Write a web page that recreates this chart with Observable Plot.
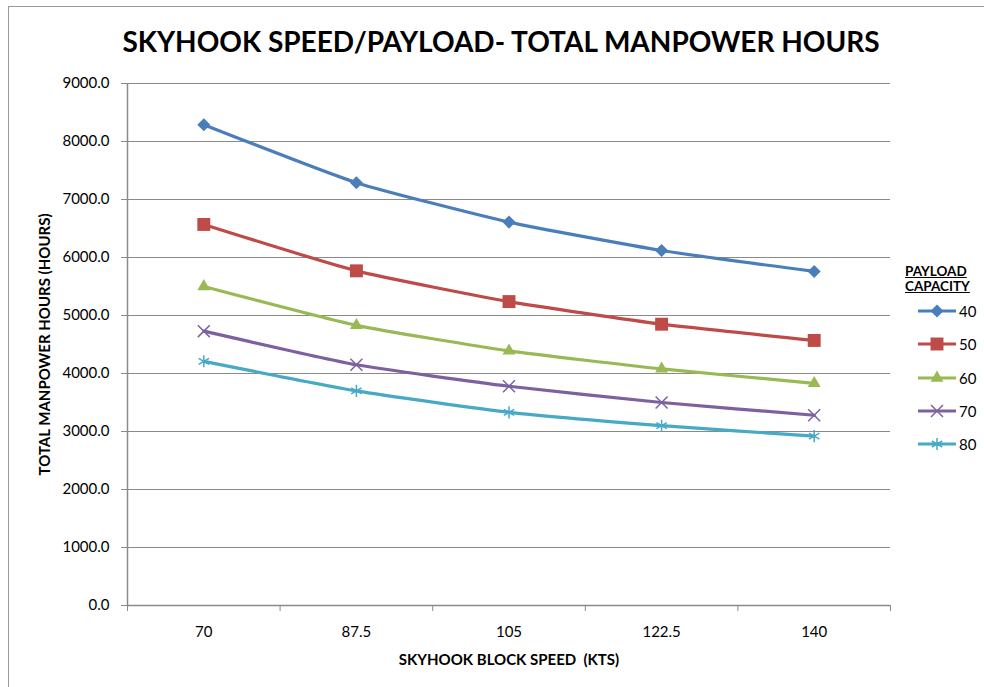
<!DOCTYPE html>
<html><head><meta charset="utf-8">
<script src="https://cdn.jsdelivr.net/npm/d3@7"></script>
<script src="https://cdn.jsdelivr.net/npm/@observablehq/plot@0.6"></script>
<style>
html,body{margin:0;padding:0;background:#fff;overflow:hidden;width:984px;height:687px}
#wrap{position:relative;width:984px;height:687px;font-family:Lato,"Open Sans",sans-serif;color:#000}
#border{position:absolute;left:8px;top:6px;width:1200px;height:1200px;border:1px solid #9a9a9a;box-sizing:border-box}
#title{position:absolute;left:0;top:24px;width:1002px;text-align:center;font-weight:bold;font-size:28px;line-height:34px;white-space:nowrap}
#chart{position:absolute;left:0;top:0}
#legend{position:absolute;left:905px;top:264px;font-size:15px}
#legend .head{font-weight:bold;font-size:13.5px;text-decoration:underline;line-height:15px}
#legend .item{position:absolute;left:12px;height:20px;display:flex;align-items:center}
#legend .item span{margin-left:2px}
</style></head>
<body><div id="wrap"><div id="border"></div><div id="chart"></div><div id="title"></div><div id="legend"></div></div>
<script>
const chartTitle = "SKYHOOK SPEED/PAYLOAD- TOTAL MANPOWER HOURS";
const xTitle = "SKYHOOK BLOCK SPEED  (KTS)";
const yTitle = "TOTAL MANPOWER HOURS (HOURS)";
const legendTitle = ["PAYLOAD", "CAPACITY"];
const speeds = [70, 87.5, 105, 122.5, 140];
const capacities = [40, 50, 60, 70, 80];
const hours40 = [8290, 7290, 6610, 6120, 5760];
const hours50 = [6570, 5770, 5240, 4850, 4570];
const hours60 = [5500, 4830, 4390, 4080, 3830];
const hours70 = [4730, 4150, 3780, 3500, 3280];
const hours80 = [4210, 3700, 3330, 3100, 2920];
const yTicks = [0, 1000, 2000, 3000, 4000, 5000, 6000, 7000, 8000, 9000];

const seriesValues = [hours40, hours50, hours60, hours70, hours80];
const seriesStyle = [
  {color: "#4a7ebb", symbol: "square", r: 5.2, rotate: 45, filled: true},
  {color: "#be4b48", symbol: "square", r: 7.3, rotate: 0, filled: true},
  {color: "#98b954", symbol: "triangle", r: 4.8, rotate: 0, filled: true},
  {color: "#7d60a0", symbol: "times", r: 5.5, rotate: 0, filled: false},
  {color: "#46aac5", symbol: "asterisk", r: 5.7, rotate: 0, filled: false}
];

document.getElementById("title").textContent = chartTitle;

const step = speeds[1] - speeds[0];
const xDomain = [speeds[0] - step / 2, speeds[speeds.length - 1] + step / 2];
const boundaries = [xDomain[0], ...speeds.slice(0, -1).map((s, i) => (s + speeds[i + 1]) / 2), xDomain[1]];
const gridColor = "#8a8a8a";

const marks = [
  Plot.gridY(yTicks.filter(v => v > 0), {stroke: gridColor, strokeOpacity: 1, strokeWidth: 1}),
  Plot.ruleY([0], {stroke: gridColor, strokeWidth: 1.5}),
  Plot.ruleX([xDomain[0]], {stroke: gridColor, strokeWidth: 1.5}),
  Plot.axisY({ticks: yTicks, tickFormat: d => d.toFixed(1), tickSize: 6, tickPadding: 12, stroke: gridColor, fill: "#000", fontSize: 15, label: null}),
  Plot.axisX({ticks: boundaries, tickSize: 6, tickFormat: () => "", stroke: gridColor, label: null}),
  Plot.axisX({ticks: speeds, tickSize: 0, tickPadding: 21, tickFormat: d => String(d), fill: "#000", fontSize: 15, label: null}),
  Plot.text([xTitle], {frameAnchor: "bottom", dy: 55, fontWeight: "bold", fontSize: 15, fill: "#000", lineAnchor: "middle", textAnchor: "middle"}),
  Plot.text([yTitle], {frameAnchor: "left", dx: -82, rotate: -90, fontWeight: "bold", fontSize: 15, fill: "#000", lineAnchor: "middle", textAnchor: "middle"})
];
seriesValues.forEach((vals, i) => {
  const rows = speeds.map((s, j) => ({speed: s, hours: vals[j], capacity: capacities[i]}));
  const st = seriesStyle[i];
  marks.push(Plot.line(rows, {x: "speed", y: "hours", stroke: st.color, strokeWidth: 3.2, curve: "cardinal", tension: 0.5}));
});
seriesValues.forEach((vals, i) => {
  const rows = speeds.map((s, j) => ({speed: s, hours: vals[j], capacity: capacities[i]}));
  const st = seriesStyle[i];
  marks.push(Plot.dot(rows, st.filled
    ? {x: "speed", y: "hours", symbol: st.symbol, r: st.r, rotate: st.rotate, fill: st.color, stroke: "none"}
    : {x: "speed", y: "hours", symbol: st.symbol, r: st.r, fill: "none", stroke: st.color, strokeWidth: 1.5}));
});

const chart = Plot.plot({
  width: 984, height: 687,
  marginLeft: 127, marginRight: 94, marginTop: 83, marginBottom: 82,
  style: {fontFamily: "Lato, 'Open Sans', sans-serif", background: "transparent", overflow: "visible"},
  x: {type: "linear", domain: xDomain, axis: null},
  y: {domain: [0, 9000], axis: null},
  marks
});
document.getElementById("chart").appendChild(chart);

// legend
const legend = d3.select("#legend");
legend.selectAll("div.head").data(legendTitle).join("div").attr("class", "head").text(d => d);
const symbolMap = {square: d3.symbolSquare, triangle: d3.symbolTriangle, times: d3.symbolTimes, asterisk: d3.symbolAsterisk};
capacities.forEach((c, i) => {
  const st = seriesStyle[i];
  const item = legend.append("div").attr("class", "item").style("top", (37 + i * 33.3) + "px");
  const svg = item.append("svg").attr("width", 40).attr("height", 20);
  svg.append("line").attr("x1", 1).attr("x2", 39).attr("y1", 10).attr("y2", 10).attr("stroke", st.color).attr("stroke-width", 3.2);
  const path = svg.append("path")
    .attr("d", d3.symbol(symbolMap[st.symbol], Math.PI * st.r * st.r)())
    .attr("transform", `translate(20,10) rotate(${st.rotate})`);
  if (st.filled) path.attr("fill", st.color);
  else path.attr("fill", "none").attr("stroke", st.color).attr("stroke-width", 1.5);
  item.append("span").text(String(c));
});
</script></body></html>
